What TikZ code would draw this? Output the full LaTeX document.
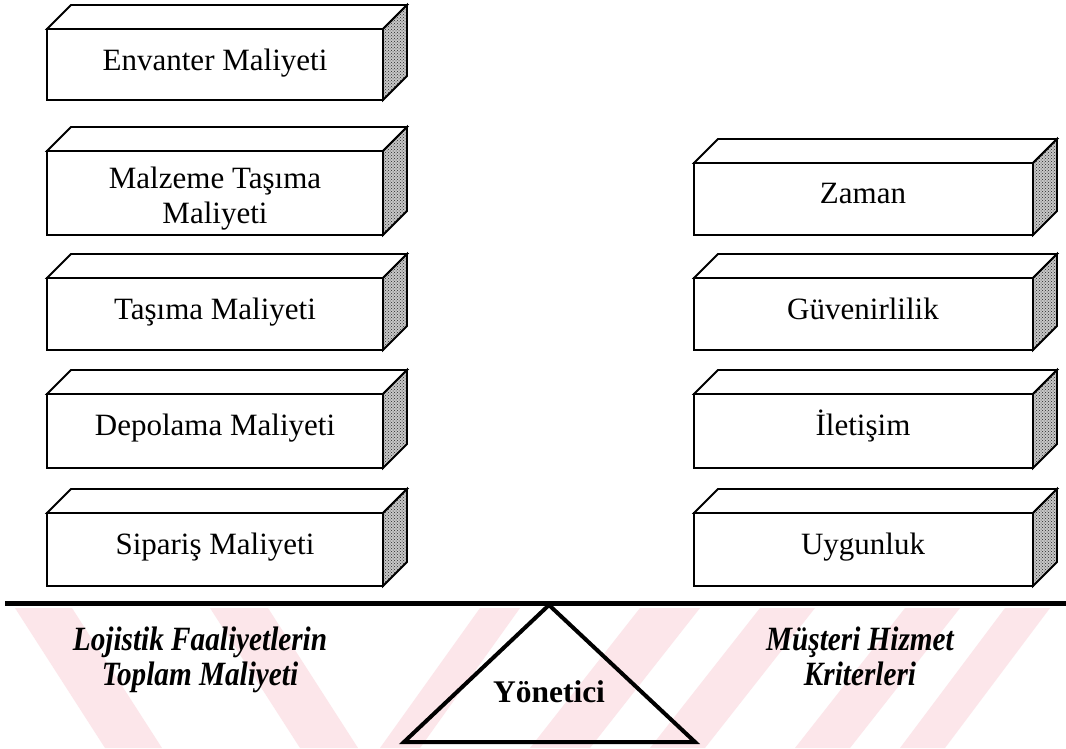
\documentclass[tikz,border=0pt]{standalone}
\usepackage{fontspec}
\setmainfont{Liberation Serif}
\newfontfamily\labelfont[FakeStretch=0.86]{Liberation Serif}
\usetikzlibrary{patterns}
\definecolor{wmpink}{RGB}{252,230,234}
\tikzset{
  frontface/.style={draw=black, line width=1.8pt, line join=miter, fill=white},
  sideface/.style={draw=black, line width=1.8pt, line join=miter,
    preaction={fill=black!22}, pattern=crosshatch dots, pattern color=black!85},
  boxtext/.style={font=\fontsize{31}{35}\selectfont, anchor=base, inner sep=0pt},
  basetext/.style={font=\labelfont\fontsize{34}{38}\selectfont\bfseries\itshape, anchor=base, inner sep=0pt},
  mgrtext/.style={font=\fontsize{31.5}{35}\selectfont\bfseries, anchor=base, inner sep=0pt},
  band/.style={fill=wmpink, draw=none},
}
% 3-D block: #1 left x, #2 front top y, #3 right x, #4 bottom y
\newcommand\kutu[4]{%
  \draw[frontface] (#1,#2) rectangle (#3,#4);
  \draw[frontface] (#1,#2) -- ++(24,-24) -- (#3+24,#2-24) -- (#3,#2) -- cycle;
  \draw[sideface] (#3,#2) -- ++(24,-24) -- (#3+24,#4-24) -- (#3,#4) -- cycle;
}
\begin{document}
\begin{tikzpicture}[x=1pt,y=-1pt]
\useasboundingbox (0,0) rectangle (1066,748);
\fill[white] (0,0) rectangle (1066,748);

% background stripes
\fill[band] (15,608) -- (72,608) -- (162,748) -- (105,748) -- cycle;
\fill[band] (210,608) -- (268,608) -- (358,748) -- (300,748) -- cycle;
\fill[band] (640,608) -- (700,608) -- (590,748) -- (530,748) -- cycle;
\fill[band] (480,608) -- (520,608) -- (420,748) -- (380,748) -- cycle;
\fill[band] (760,608) -- (815,608) -- (705,748) -- (650,748) -- cycle;
\fill[band] (905,608) -- (960,608) -- (850,748) -- (795,748) -- cycle;
\fill[band] (1005,608) -- (1050,608) -- (945,748) -- (900,748) -- cycle;

% cost blocks (left column)
\kutu{47}{29}{383}{100}
\kutu{47}{151}{383}{235}
\kutu{47}{278}{383}{350}
\kutu{47}{394}{383}{468}
\kutu{47}{513}{383}{586}
\node[boxtext] (envanter) at (215,70)  {Envanter Maliyeti};
\node[boxtext] (malzemeA) at (215,188) {Malzeme Taşıma};
\node[boxtext] (malzemeB) at (215,223) {Maliyeti};
\node[boxtext] (tasima)   at (215,319) {Taşıma Maliyeti};
\node[boxtext] (depolama) at (215,435) {Depolama Maliyeti};
\node[boxtext] (siparis)  at (215,554) {Sipariş Maliyeti};

% service blocks (right column)
\kutu{694}{163}{1033}{235}
\kutu{694}{278}{1033}{350}
\kutu{694}{394}{1033}{468}
\kutu{694}{513}{1033}{586}
\node[boxtext] (zaman)    at (863,203) {Zaman};
\node[boxtext] (guven)    at (863,319) {Güvenirlilik};
\node[boxtext] (iletisim) at (863,435) {İletişim};
\node[boxtext] (uygunluk) at (863,554) {Uygunluk};

% balance beam and fulcrum
\draw[line width=5pt] (5,603) -- (1066,603);
\draw[line width=4pt, line join=miter] (549,605) -- (404,742) -- (695,742) -- cycle;
\node[mgrtext] (yonetici) at (549,702) {Yönetici};

% beam labels
\node[basetext] (solA) at (200,650) {Lojistik Faaliyetlerin};
\node[basetext] (solB) at (200,685) {Toplam Maliyeti};
\node[basetext] (sagA) at (860,650) {Müşteri Hizmet};
\node[basetext] (sagB) at (860,685) {Kriterleri};
\end{tikzpicture}
\end{document}
